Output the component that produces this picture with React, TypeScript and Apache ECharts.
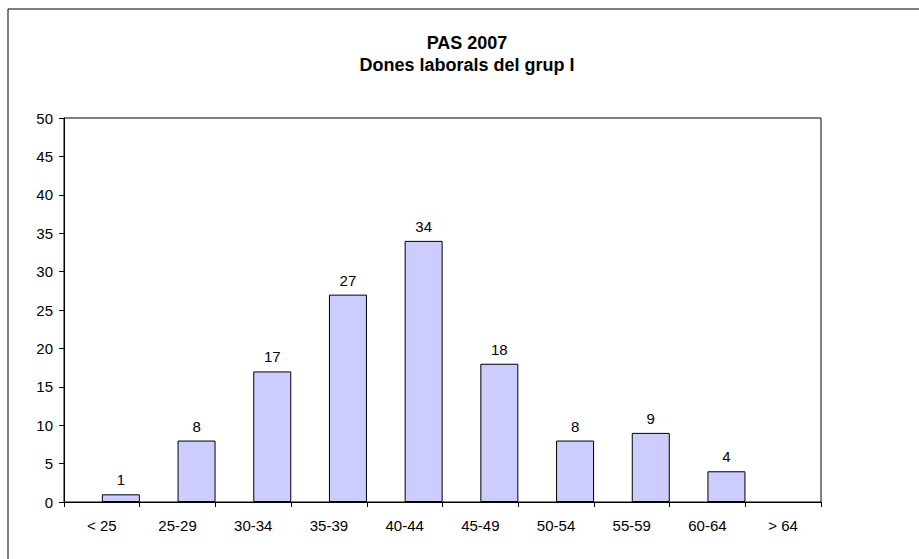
import React, { useEffect, useRef } from "react";
import * as echarts from "echarts";

const categories = ["< 25", "25-29", "30-34", "35-39", "40-44", "45-49", "50-54", "55-59", "60-64", "> 64"];
const values = [1, 8, 17, 27, 34, 18, 8, 9, 4, 0];
const titleLines = ["PAS 2007", "Dones laborals del grup I"];

export default function App() {
  const ref = useRef<HTMLDivElement>(null);
  useEffect(() => {
    if (!ref.current) return;
    const chart = echarts.init(ref.current, undefined, { renderer: "svg" });
    const font = "Arial, 'Liberation Sans', sans-serif";
    chart.setOption({
      animation: false,
      backgroundColor: "#fff",
      textStyle: { fontFamily: font },
      graphic: [
        {
          type: "rect",
          shape: { x: 8, y: 9, width: 1000, height: 1000 },
          style: { fill: "none", stroke: "#000", lineWidth: 1 },
          silent: true,
        },
        {
          type: "text",
          x: 467,
          y: 43,
          style: { text: titleLines[0], font: `bold 18px ${font}`, fill: "#000", textAlign: "center", textVerticalAlign: "middle" },
        },
        {
          type: "text",
          x: 467,
          y: 65,
          style: { text: titleLines[1], font: `bold 18px ${font}`, fill: "#000", textAlign: "center", textVerticalAlign: "middle" },
        },
      ],
      grid: {
        left: 64,
        top: 118,
        width: 757,
        height: 384,
        show: true,
        borderColor: "#000",
        borderWidth: 1,
        containLabel: false,
      },
      xAxis: {
        type: "category",
        data: categories,
        axisLine: { show: true, lineStyle: { color: "#000", width: 1 } },
        axisTick: { show: true, length: 5, lineStyle: { color: "#000" } },
        axisLabel: { color: "#000", fontSize: 15, margin: 16, fontFamily: font, interval: 0 },
      },
      yAxis: {
        type: "value",
        min: 0,
        max: 50,
        interval: 5,
        axisLine: { show: true, lineStyle: { color: "#000", width: 1 } },
        axisTick: { show: true, length: 5, lineStyle: { color: "#000" } },
        axisLabel: { color: "#000", fontSize: 15, margin: 11, fontFamily: font },
        splitLine: { show: false },
      },
      series: [
        {
          type: "bar",
          data: values.map(() => null),
          barWidth: 38,
          barGap: 0,
          silent: true,
        },
        {
          type: "bar",
          data: values.map((v) => (v === 0 ? null : v)),
          barWidth: 38,
          barGap: 0,
          itemStyle: { color: "#CCCCFF", borderColor: "#000", borderWidth: 1 },
          label: { show: true, position: "top", distance: 7, color: "#000", fontSize: 15, fontFamily: font },
        },
      ],
    });
    return () => chart.dispose();
  }, []);
  return <div ref={ref} style={{ position: "absolute", left: 0, top: 0, width: 919, height: 559 }} />;
}
